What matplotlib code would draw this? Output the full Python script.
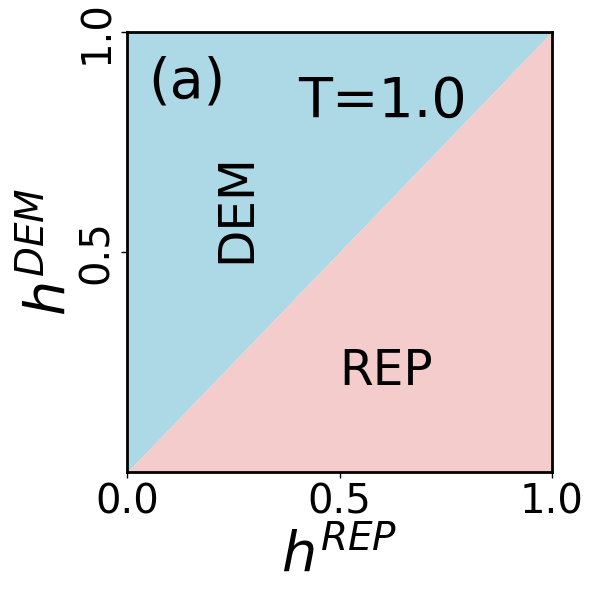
import numpy as np
import matplotlib
matplotlib.use("Agg")
import matplotlib.pyplot as plt

# boundary between regions (h_DEM = h_REP)
h_rep = [0.0, 1.0]
boundary = [0.0, 1.0]
xticks = [0.0, 0.5, 1.0]
yticks = [0.5, 1.0]
tick_labels_x = ["0.0", "0.5", "1.0"]
tick_labels_y = ["0.5", "1.0"]

fig = plt.figure(figsize=(6, 6), dpi=100)
ax = fig.add_axes([0.212, 0.213, 0.708, 0.734])
ax.fill_between(h_rep, boundary, 1.0, color="#ADD8E6", lw=0)
ax.fill_between(h_rep, 0.0, boundary, color="#F4CCCC", lw=0)
ax.set_xlim(0, 1)
ax.set_ylim(0, 1)
ax.set_xticks(xticks)
ax.set_xticklabels(tick_labels_x, fontsize=29)
ax.set_yticks(yticks)
ax.set_yticklabels(tick_labels_y, fontsize=29, rotation=90, va="center")
for s in ax.spines.values():
    s.set_linewidth(2)
ax.tick_params(length=4, width=1)
ax.set_xlabel(r"$h^{REP}$", fontsize=40, labelpad=4)
ax.set_ylabel(r"$h^{DEM}$", fontsize=40, labelpad=0)
ax.text(0.14, 0.885, "(a)", fontsize=40, ha="center", va="center")
ax.text(0.6, 0.84, "T=1.0", fontsize=40, ha="center", va="center")
ax.text(0.256, 0.60, "DEM", fontsize=35, ha="center", va="center", rotation=90)
ax.text(0.61, 0.23, "REP", fontsize=35, ha="center", va="center")
fig.savefig("out.png", dpi=100)
